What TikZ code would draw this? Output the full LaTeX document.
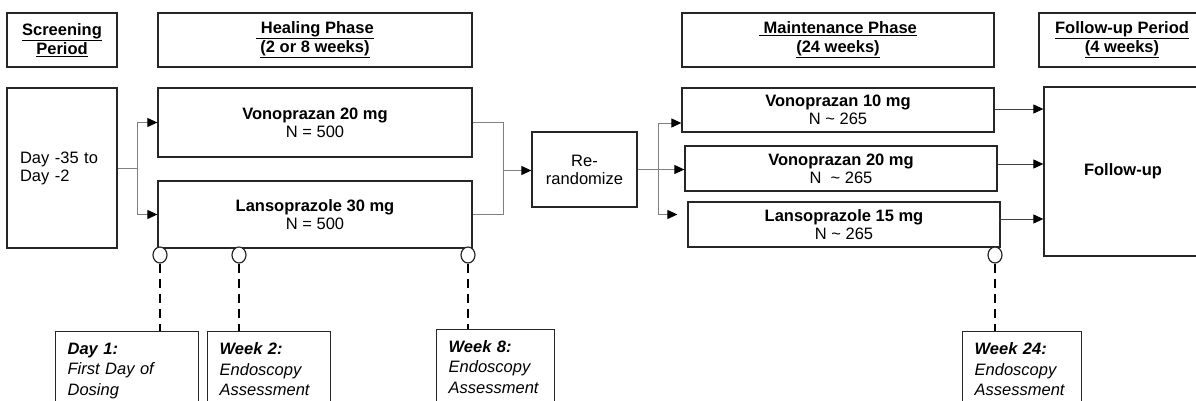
\documentclass[tikz,border=0pt]{standalone}
\usepackage{fontspec}
\setmainfont{Liberation Sans}
\usetikzlibrary{arrows.meta,shapes.geometric}

\tikzset{
  boxline/.style={draw=black!85, line width=1.3pt},
  box/.style={boxline, inner sep=0pt, align=center,
    font=\fontsize{16.5}{18}\selectfont},
  hdr/.style={box, minimum height=54pt,
    font=\fontsize{16.5}{19}\selectfont\bfseries},
  anno/.style={boxline, anchor=north west, align=left, inner xsep=12pt,
    inner ysep=11pt, font=\fontsize{16.5}{20.5}\selectfont\itshape},
  conn/.style={draw=black!50, line width=1pt},
  fconn/.style={draw=black!75, line width=1pt},
  tip/.style={-{Triangle[length=10pt,width=9pt,color=black]}},
  visit/.style={ellipse, draw=black!85, line width=1.2pt, fill=white,
    minimum width=14pt, minimum height=16pt, inner sep=0pt},
  dashline/.style={draw=black, line width=1.8pt, dash pattern=on 9pt off 6pt},
}

\begin{document}
\begin{tikzpicture}[x=1pt, y=-1pt]
\useasboundingbox (0,0) rectangle (1196,400);
\clip (0,0) rectangle (1196,400);

% period headers
\node[hdr, minimum width=110pt] (scrH) at (62,40)
  {\underline{Screening}\\\underline{Period}};
\node[hdr, minimum width=314pt] (healH) at (315,40)
  {\underline{\ Healing Phase}\\\underline{(2 or 8 weeks)}};
\node[hdr, minimum width=312pt] (mainH) at (838,40)
  {\underline{\ Maintenance Phase}\\\underline{(24 weeks)}};
\node[hdr, minimum width=166pt] (fupH) at (1122,40)
  {\underline{Follow-up Period}\\\underline{(4 weeks)}};

% screening
\node[box, minimum width=110pt, minimum height=160pt, align=left,
  text width=84pt, inner xsep=13pt] (scr) at (62,168)
  {Day -35 to\\Day -2};

% healing arms
\node[box, minimum width=314pt, minimum height=69pt] (heal1) at (315,122.5)
  {\textbf{Vonoprazan 20 mg}\\N = 500};
\node[box, minimum width=314pt, minimum height=67pt] (heal2) at (315,214.5)
  {\textbf{Lansoprazole 30 mg}\\N = 500};

% re-randomisation
\node[box, minimum width=105pt, minimum height=75pt] (rr) at (584.5,169.5)
  {Re-\\randomize};

% maintenance arms
\node[box, minimum width=312pt, minimum height=44pt] (m1) at (838,110)
  {\textbf{Vonoprazan 10 mg}\\N \textasciitilde{} 265};
\node[box, minimum width=312pt, minimum height=45pt] (m2) at (841,168.5)
  {\textbf{Vonoprazan 20 mg}\\N\ \ \textasciitilde{} 265};
\node[box, minimum width=312pt, minimum height=45pt] (m3) at (844,224.5)
  {\textbf{Lansoprazole 15 mg}\\N \textasciitilde{} 265};

% follow-up
\node[box, minimum width=158pt, minimum height=169pt] (fup) at (1123,171.5)
  {\textbf{Follow-up}};

% connectors: screening to healing
\coordinate (j1) at (137,168);
\draw[conn] (scr.east) -- (j1);
\draw[conn, tip] (j1) |- (heal1.west);
\draw[conn, tip] (j1) |- (heal2.west);

% healing to re-randomisation
\coordinate (j2) at (503,170.5);
\draw[conn] (heal1.east) -| (j2);
\draw[conn] (heal2.east) -| (j2);
\draw[conn, tip] (j2) -- (rr.west |- j2);

% re-randomisation to maintenance
\coordinate (j3) at (658,169.5);
\draw[conn, tip] (rr.east) -- (m2.west |- rr.east);
\draw[conn, tip] (j3) |- ([yshift=-13pt]m1.west);
\draw[conn, tip] (j3) |- ([xshift=-10pt, yshift=10pt]m3.west);

% maintenance to follow-up
\draw[fconn, tip] ([yshift=1pt]m1.east) -- ([yshift=1pt]m1.east -| fup.west);
\draw[fconn, tip] ([yshift=4.5pt]m2.east) -- ([yshift=4.5pt]m2.east -| fup.west);
\draw[fconn, tip] ([xshift=-2pt, yshift=5.5pt]m3.east) -- ([yshift=5.5pt]m3.east -| fup.west);

% visit markers
\node[visit] (c1) at (160,255) {};
\node[visit] (c2) at (239,255) {};
\node[visit] (c3) at (468,255) {};
\node[visit] (c4) at (995,255) {};

% visit descriptions
\node[anno, text width=119pt] (a1) at (55,331)
  {\textbf{Day 1:}\\First Day of\\Dosing\strut};
\node[anno, text width=99pt] (a2) at (207,331)
  {\textbf{Week 2:}\\Endoscopy\\Assessment\strut};
\node[anno, text width=94pt] (a3) at (436,328.5)
  {\textbf{Week 8:}\\Endoscopy\\Assessment\strut};
\node[anno, text width=95pt] (a4) at (962,331)
  {\textbf{Week 24:}\\Endoscopy\\Assessment\strut};

\draw[dashline] (c1.south) -- (c1.south |- a1.north);
\draw[dashline] (c2.south) -- (c2.south |- a2.north);
\draw[dashline] (c3.south) -- (c3.south |- a3.north);
\draw[dashline] (c4.south) -- (c4.south |- a4.north);
\end{tikzpicture}
\end{document}
